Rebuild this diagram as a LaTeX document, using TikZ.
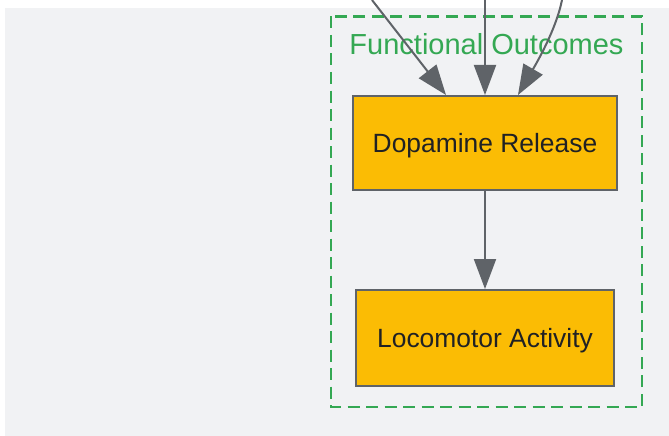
\documentclass[tikz,border=0pt]{standalone}
\usepackage{fontspec}
\setmainfont{Liberation Sans}
\usetikzlibrary{arrows.meta}
\definecolor{bgc}{HTML}{F1F2F4}
\definecolor{grn}{HTML}{34A853}
\definecolor{edgec}{HTML}{5F6368}
\definecolor{boxc}{HTML}{FBBC04}
\definecolor{txtc}{HTML}{202124}
\tikzset{
  procbox/.style={draw=edgec, line width=2pt, fill=boxc, text=txtc, inner sep=0pt,
    text depth=0pt, font=\fontsize{26.4}{30}\selectfont},
  conn/.style={draw=edgec, line width=2pt, -{Triangle[length=30pt,width=22pt]}},
  cluster/.style={draw=grn, line width=2.6pt, dash pattern=on 12pt off 6.5pt},
}
\begin{document}
\begin{tikzpicture}[x=1pt,y=-1pt]
\useasboundingbox (0,0) rectangle (669,436);
\fill[white] (0,0) rectangle (669,436);
\fill[bgc] (5,8) rectangle (669,436);
\draw[cluster] (331,16.5) rectangle (642,407);
\node[text=grn, anchor=base, font=\fontsize{29}{32}\selectfont] (lbl) at (486.5,54.3) {Functional Outcomes};
\node[procbox, minimum width=264pt, minimum height=94pt] (d1) at (485,143) {Dopamine Release};
\node[procbox, minimum width=258pt, minimum height=96pt] (d2) at (485,338) {Locomotor Activity};
\coordinate (s1) at (372,0);
\coordinate (s2) at (485,0);
\coordinate (s3) at (562,0);
\draw[conn] (s1) -- ([xshift=-39pt]d1.north);
\draw[conn] (s2) -- (d1.north);
\draw[conn] (s3) .. controls (556,30) and (536,64) .. ([xshift=33pt]d1.north);
\draw[conn] (d1.south) -- (d2.north);
\end{tikzpicture}
\end{document}
